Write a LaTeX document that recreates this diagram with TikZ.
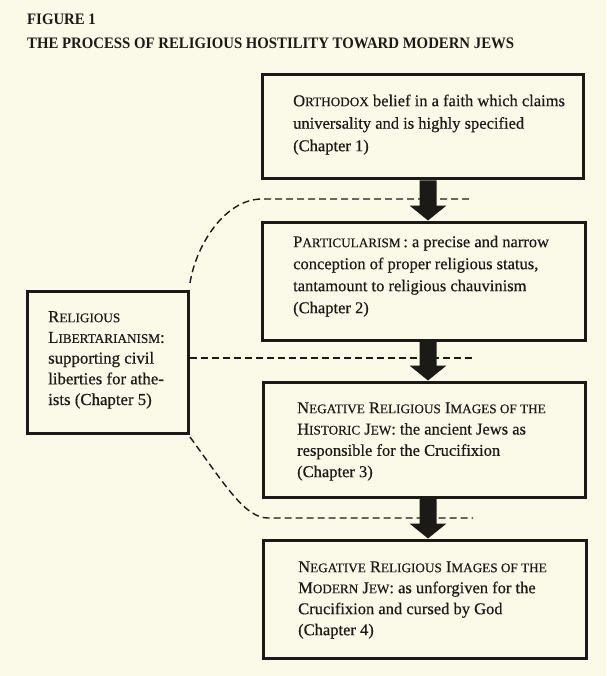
\documentclass[tikz,border=0pt]{standalone}
\usepackage{fontspec}
\setmainfont{Liberation Serif}
\newfontfamily\bodyfont[FakeBold=0.5]{Liberation Serif}
\usetikzlibrary{calc}
\definecolor{paper}{RGB}{251,249,231}
\definecolor{ink}{RGB}{28,26,23}
\newcommand\lc[1]{{\fontsize{13.2}{13.2}\selectfont #1}}
\newcommand\firstline{\rule{0pt}{14pt}}
\newcommand\blkarrow[2]{%
  \fill[ink] let \p1=(#1), \p2=(#2) in
    (\x1-8.5pt,\y1) -- (\x1+8.5pt,\y1) -- (\x1+8.5pt,\y2+15pt) -- (\x1+18.5pt,\y2+15pt)
    -- (\x1,\y2) -- (\x1-18.5pt,\y2+15pt) -- (\x1-8.5pt,\y2+15pt) -- cycle;}
\begin{document}
\begin{tikzpicture}[x=1pt,y=-1pt,
  box/.style={draw=ink,line width=3pt,rectangle,inner sep=0pt},
  txt/.style={anchor=north west,inner sep=0pt,align=left,text=ink},
  dashline/.style={draw=ink,line width=1.4pt,dash pattern=on 7pt off 4pt}]
\fill[paper] (0,0) rectangle (606,676);
\useasboundingbox (0,0) rectangle (606,676);

% title
\node[txt,anchor=base west,font=\fontsize{14.8}{17}\selectfont\bfseries] (fig) at (27,25) {\scalebox{1}[1.08]{FIGURE 1}};
\node[txt,anchor=base west,font=\fontsize{14.8}{17}\selectfont\bfseries] (title) at (27,49) {\scalebox{1}[1.08]{THE PROCESS OF RELIGIOUS HOSTILITY TOWARD MODERN JEWS}};

% boxes
\node[box,minimum width=321pt,minimum height=104pt] (b1) at (422.5,127) {};
\node[box,minimum width=323pt,minimum height=118pt] (b2) at (423.5,281) {};
\node[box,minimum width=322pt,minimum height=115pt] (b3) at (424,439.5) {};
\node[box,minimum width=323pt,minimum height=118pt] (b4) at (424.5,599) {};
\node[box,minimum width=161pt,minimum height=142pt] (lib) at (107.5,362) {};

% dashed connectors
\coordinate (e1) at (473,199);
\coordinate (e2) at (473,358);
\coordinate (e3) at (473,518);
\coordinate (s1) at (190,283);
\coordinate (s3) at (190,437);
\draw[dashline] (s1) .. controls (196,245) and (225,199) .. (262,199) -- (e1);
\draw[dashline] (lib.east |- e2) -- (e2);
\draw[dashline] (s3) .. controls (225,485) and (245,518) .. (268,518) -- (e3);

% block arrows
\coordinate (ax) at (428,0);
\blkarrow{b1.south -| ax}{b2.north -| ax}
\blkarrow{b2.south -| ax}{b3.north -| ax}
\blkarrow{b3.south -| ax}{b4.north -| ax}

% texts
\node[txt,font=\bodyfont\fontsize{16.5}{22.5}\selectfont] (t1) at (293,106-14) {\firstline O\lc{RTHODOX} belief in a faith which claims\\universality and is highly specified\\(Chapter 1)};
\node[txt,font=\bodyfont\fontsize{16.5}{22}\selectfont] (t2) at (293,247-14) {\firstline P\lc{ARTICULARISM}\,: a precise and narrow\\conception of proper religious status,\\tantamount to religious chauvinism\\(Chapter 2)};
\node[txt,font=\bodyfont\fontsize{16.5}{21.3}\selectfont] (t3) at (297,413-14) {\firstline N\lc{EGATIVE} R\lc{ELIGIOUS} I\lc{MAGES OF THE}\\H\lc{ISTORIC} J\lc{EW}: the ancient Jews as\\responsible for the Crucifixion\\(Chapter 3)};
\node[txt,font=\bodyfont\fontsize{16.5}{21}\selectfont] (t4) at (298,572-14) {\firstline N\lc{EGATIVE} R\lc{ELIGIOUS} I\lc{MAGES OF THE}\\M\lc{ODERN} J\lc{EW}: as unforgiven for the\\Crucifixion and cursed by God\\(Chapter 4)};
\node[txt,font=\bodyfont\fontsize{16.8}{20.7}\selectfont] (t5) at (48,322-14) {\firstline R\lc{ELIGIOUS}\\L\lc{IBERTARIANISM}:\\supporting civil\\liberties for athe-\\ists (Chapter 5)};
\end{tikzpicture}
\end{document}
